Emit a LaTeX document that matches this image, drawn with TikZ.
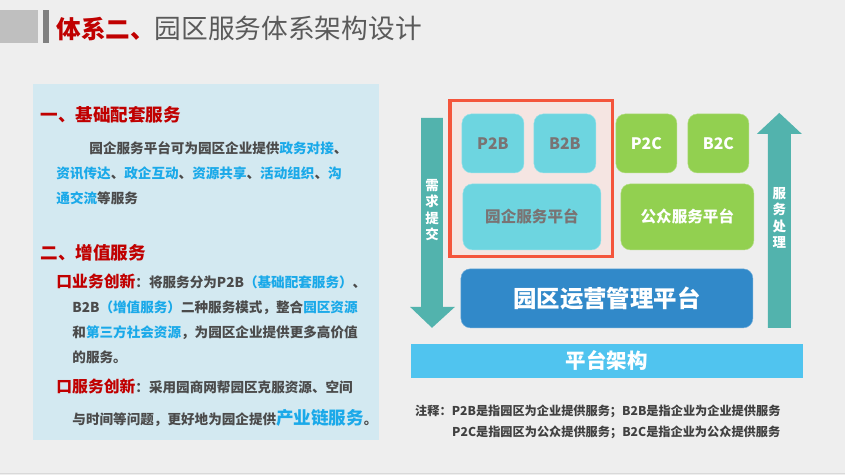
\documentclass[tikz,border=0pt]{standalone}
\usepackage{fontspec}
\setmainfont{Noto Sans CJK SC}
\usepackage{xcolor}
\definecolor{pkbg}{RGB}{238,238,238}
\definecolor{pkpanel}{RGB}{211,233,241}
\definecolor{pkred}{RGB}{192,0,0}
\definecolor{pktitle}{RGB}{90,90,90}
\definecolor{pktext}{RGB}{75,75,75}
\definecolor{pkblue}{RGB}{26,169,233}
\definecolor{pkteal}{RGB}{82,179,173}
\definecolor{pkcyan}{RGB}{109,213,224}
\definecolor{pkgreen}{RGB}{146,208,80}
\definecolor{pkops}{RGB}{49,137,201}
\definecolor{pkbar}{RGB}{80,196,239}
\definecolor{pkframe}{RGB}{244,85,60}
\definecolor{pkpink}{RGB}{245,229,226}
\definecolor{pkboxtxt}{RGB}{122,115,115}
\usetikzlibrary{positioning}

\tikzset{
  line/.style={anchor=west, inner sep=0pt, text=pktext, font=\fontsize{11.6}{14}\selectfont\bfseries},
  head/.style={anchor=west, inner sep=0pt, text=pkred, font=\fontsize{15}{18}\selectfont\bfseries},
  tile/.style={rounded corners=8pt, inner sep=0pt, font=\fontsize{13.5}{16}\selectfont\bfseries},
  cyantile/.style={tile, fill=pkcyan, draw=pkcyan!70!white, text=pkboxtxt},
  greentile/.style={tile, fill=pkgreen, draw=pkgreen!70!white, text=white},
  vtext/.style={align=center, text=white, font=\fontsize{11.5}{14}\selectfont\bfseries},
  note/.style={anchor=west, inner sep=0pt, text=pktext!85!black, font=\fontsize{10.4}{12}\selectfont\bfseries}
}

\begin{document}
\begin{tikzpicture}[x=0.03cm, y=-0.03cm]
  % Background
  \fill[pkbg] (0,0) rectangle (845,475);
  \draw[black!15] (0,473) -- (845,473);

  % --- Title ---
  \fill[black!25] (0,10) rectangle (38,43);
  \fill[black!50] (43,10) rectangle (49,43);
  \node[anchor=west, inner sep=0pt, text=pkred, font=\fontsize{21}{24}\selectfont\bfseries] (title) at (56,28)
    {体系二、{\color{pktitle}\mdseries\fontsize{22.8}{24}\selectfont 园区服务体系架构设计}};

  % --- Left panel ---
  \fill[pkpanel] (33,84) rectangle (379,440);
  \node[head] (basic) at (40,115) {一、基础配套服务};
  \node[line] (b1) at (89,148) {园企服务平台可为园区企业提供{\color{pkblue}政务对接}、};
  \node[line] (b2) at (56,173) {{\color{pkblue}资讯传达}、{\color{pkblue}政企互动}、{\color{pkblue}资源共享}、{\color{pkblue}活动组织}、{\color{pkblue}沟}};
  \node[line] (b3) at (56,198) {{\color{pkblue}通交流}等服务};

  \node[head] (plus) at (40,253) {二、增值服务};
  \node[line] (v1) at (56,282) {{\color{pkred}\fontsize{13.5}{16}\selectfont 口业务创新}：将服务分为P2B{\color{pkblue}（基础配套服务）}、};
  \node[line] (v2) at (72,308) {B2B{\color{pkblue}（增值服务）}二种服务模式，整合{\color{pkblue}园区资源}};
  \node[line] (v3) at (72,333) {和{\color{pkblue}第三方社会资源}，为园区企业提供更多高价值};
  \node[line] (v4) at (72,358) {的服务。};
  \node[line] (v5) at (56,387) {{\color{pkred}\fontsize{13.5}{16}\selectfont 口服务创新}：采用园商网帮园区克服资源、空间};
  \node[line] (v6) at (72,418) {与时间等问题，更好地为园企提供{\color{pkblue}\fontsize{15}{16}\selectfont 产业链服务}。};

  % --- Right diagram ---
  % red frame round the enterprise side
  \draw[pkframe, line width=2.6pt, fill=pkpink] (450,101) rectangle (613,257);
  \node[cyantile, minimum width=1.86cm, minimum height=1.77cm] (p2b) at (493,143.5) {P2B};
  \node[cyantile, minimum width=1.86cm, minimum height=1.77cm] (b2b) at (565,143.5) {B2B};
  \node[greentile, minimum width=1.83cm, minimum height=1.77cm] (p2c) at (646.5,143.5) {P2C};
  \node[greentile, minimum width=1.83cm, minimum height=1.77cm] (b2c) at (718.5,143.5) {B2C};
  \node[cyantile, minimum width=4.14cm, minimum height=1.98cm, font=\fontsize{13.3}{16}\selectfont\bfseries] (yqpf) at (532,217) {园企服务平台};
  \node[greentile, minimum width=3.99cm, minimum height=1.98cm, font=\fontsize{13.3}{16}\selectfont\bfseries] (gzpf) at (687.5,217) {公众服务平台};
  \node[tile, fill=pkops, draw=pkops!70!white, text=white, minimum width=8.76cm, minimum height=1.77cm,
        font=\fontsize{20}{24}\selectfont\bfseries] (ops) at (607,298.5) {园区运营管理平台};
  \node[fill=pkbar, text=white, inner sep=0pt, minimum width=11.76cm, minimum height=1.02cm,
        font=\fontsize{17.5}{20}\selectfont\bfseries] (arch) at (607,361) {平台架构};

  % Side arrows
  \fill[pkteal] (421,118) -- (443,118) -- (443,307) -- (455,307) -- (432,328) -- (410,307) -- (421,307) -- cycle;
  \node[vtext] (need) at (432,210) {需\\求\\提\\交};
  \fill[pkteal] (768,328) -- (791,328) -- (791,134) -- (802,134) -- (779.5,113) -- (757,134) -- (768,134) -- cycle;
  \node[vtext] (serve) at (779.5,218) {服\\务\\处\\理};

  % Notes
  \node[note] (n1) at (415,412) {注释：P2B是指园区为企业提供服务；B2B是指企业为企业提供服务};
  \node[note] (n2) at (452,433) {P2C是指园区为公众提供服务；B2C是指企业为公众提供服务};
\end{tikzpicture}
\end{document}
